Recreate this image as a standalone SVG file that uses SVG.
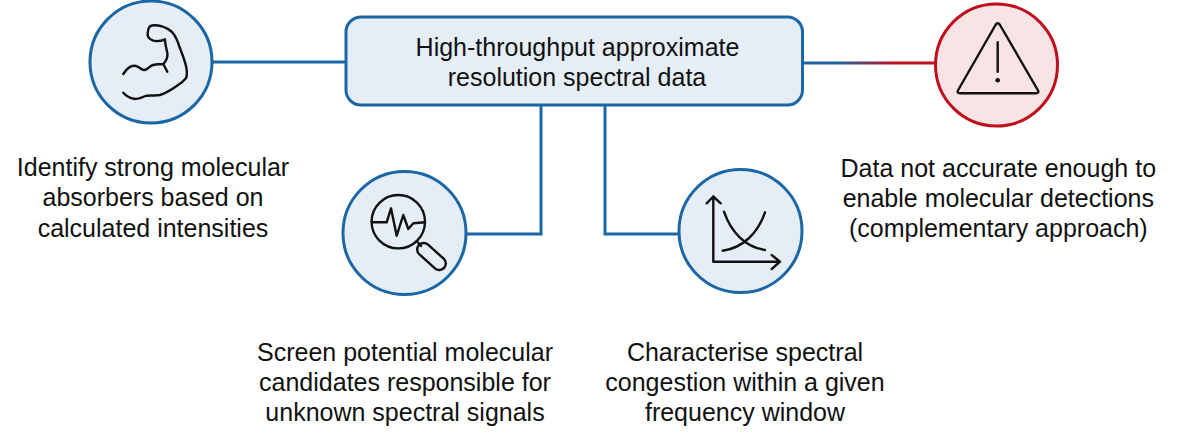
<svg xmlns="http://www.w3.org/2000/svg" width="1200" height="443" viewBox="0 0 1200 443">
<style>
.c{fill:#e5eef6;stroke:#1b66a4;stroke-width:3}
.r{fill:#f8e3e5;stroke:#c00f1c;stroke-width:3}
.l{fill:none;stroke:#1b66a4;stroke-width:3}
.i{fill:none;stroke:#111;stroke-width:2.4;stroke-linecap:round;stroke-linejoin:round}
text{font-family:"Liberation Sans",Arial,sans-serif;font-size:25px;fill:#111;text-anchor:middle}
</style>
<defs><linearGradient id="g" gradientUnits="userSpaceOnUse" x1="803" y1="0" x2="935" y2="0"><stop offset="0" stop-color="#1b66a4"/><stop offset=".25" stop-color="#1b66a4"/><stop offset=".7" stop-color="#c00f1c"/><stop offset="1" stop-color="#c00f1c"/></linearGradient></defs>
<rect width="1200" height="443" fill="#fff"/>
<g id="connectors">
<path class="l" d="M212 62H346"/>
<path class="l" d="M541 105V234H466"/>
<path class="l" d="M605 105V234H679"/>
<rect x="802" y="61.500" width="133" height="3" fill="url(#g)"/>
</g>
<g id="box"><rect class="c" x="346" y="17" width="456.500" height="88" rx="15"/>
<text x="577.500" y="56">High-throughput approximate</text><text x="577" y="86">resolution spectral data</text></g>
<g id="strength"><circle class="c" cx="151" cy="62" r="61"/>
<path class="i" d="M123.3 74C127 68 132 65 136 66C140 67 141 70 144 70C148 70 149 66 153 65C157 64 161 64 163.3 64L167.3 71.7M163.3 64C167 60 168 57 167.3 53C166 47 165 43 165 39.3C161 41 157 41.5 153.3 40.7C149 39 147 37 147.7 33C148 29 149 26 152 25.5C158 24.500 166 27 171.700 31.700C176 36 178 42 180 48.300C183 56 186 63 186.700 70C187 74 187 76 186 78.300C183 82 180 84 176.700 86C171 90 166 93 160 95C155 96 151 95 146.700 95.700C142 97 139 99 135 99C130 98 126 96 123.300 92.700"/>
<text x="153" y="176">Identify strong molecular</text><text x="153" y="206.300">absorbers based on</text><text x="153" y="236.500">calculated intensities</text></g>
<g id="screen"><circle class="c" cx="404.500" cy="233" r="61.500"/>
<circle class="i" cx="398.300" cy="221.700" r="26.700"/>
<path class="i" d="M371.700 222.300H386.700L391 208.300L396.700 235.700L403.300 215L408.300 229L413.300 223.300L425 222.300M417.700 242.300L421 246"/>
<rect class="i" x="414.500" y="250" width="34" height="13" rx="6.500" transform="rotate(42 431.500 256.500)"/>
<text x="405" y="361">Screen potential molecular</text><text x="405" y="390.700">candidates responsible for</text><text x="405" y="420.700">unknown spectral signals</text></g>
<g id="congestion"><circle class="c" cx="740.500" cy="231" r="61.500"/>
<path class="i" d="M706.700 203.300L713.300 196.500L720.700 203.300M713.300 196.500V261.700H780M771.700 255L780 261.700L771.700 269"/>
<path class="i" d="M724 211.700C731 232 745 247 765 250M722.700 250.700C743 248 758 233 765 212.300"/>
<text x="745" y="361">Characterise spectral</text><text x="745" y="390.700">congestion within a given</text><text x="745" y="420.700">frequency window</text></g>
<g id="warning"><circle class="r" cx="996.500" cy="65" r="61"/>
<path class="i" d="M995.500 25Q997.700 21.500 1000 25L1037.800 90Q1039.500 93.300 1036 93.300H960Q956.500 93.300 958.200 90Z"/>
<path class="i" d="M997.700 42.300V71.700"/><circle cx="997.700" cy="80.300" r="2.300" fill="#111"/>
<text x="998.300" y="176.500">Data not accurate enough to</text><text x="998.300" y="206.700">enable molecular detections</text><text x="998.300" y="236.800">(complementary approach)</text></g>
</svg>
